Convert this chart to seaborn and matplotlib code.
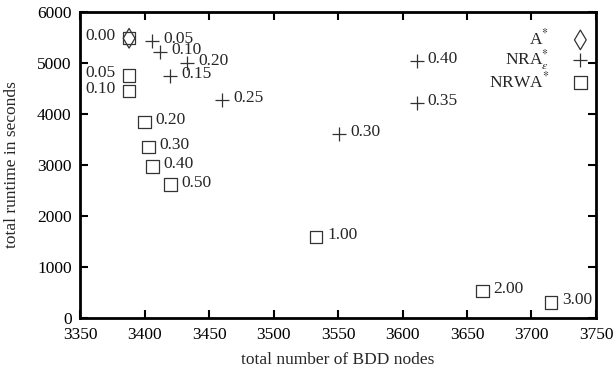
import pandas as pd
import matplotlib
matplotlib.use("Agg")
import matplotlib.pyplot as plt
import seaborn as sns

# values
astar_x = [3388]
astar_y = [5490]

nra_eps = ["0.05", "0.10", "0.15", "0.20", "0.25", "0.30", "0.35", "0.40"]
nra_x = [3406, 3412, 3420, 3433, 3460, 3551, 3611, 3611]
nra_y = [5430, 5215, 4741, 5002, 4283, 3601, 4216, 5041]

nrwa_w = ["0.00", "0.05", "0.10", "0.20", "0.30", "0.40", "0.50", "1.00", "2.00", "3.00"]
nrwa_x = [3388, 3388, 3388, 3400, 3403, 3406, 3420, 3533, 3662, 3715]
nrwa_y = [5490, 4760, 4452, 3843, 3352, 2972, 2613, 1578, 517, 295]
left_labels = ["0.00", "0.05", "0.10"]

sns.set_theme(style="ticks")
plt.rcParams["font.family"] = ["Liberation Serif", "DejaVu Serif"]
plt.rcParams["mathtext.fontset"] = "stix"
fs = 12.5

nra_df = pd.DataFrame({"x": nra_x, "y": nra_y, "label": nra_eps})
nrwa_df = pd.DataFrame({"x": nrwa_x, "y": nrwa_y, "label": nrwa_w})
astar_df = pd.DataFrame({"x": astar_x, "y": astar_y})

fig = plt.figure(figsize=(6.16, 3.74), dpi=100)
ax = fig.add_axes([0.13, 0.151, 0.8375, 0.816])

sns.scatterplot(data=astar_df, x="x", y="y", marker="d", s=100, facecolors="none",
                edgecolor="#333333", linewidth=0.9, label=r"A$^{*}$", ax=ax)
sns.scatterplot(data=nra_df, x="x", y="y", marker="+", s=90, color="#333333",
                linewidth=0.9, label=r"NRA$^{*}_{\epsilon}$", ax=ax)
sns.scatterplot(data=nrwa_df, x="x", y="y", marker="s", s=80, facecolors="none",
                edgecolor="#333333", linewidth=0.9, label=r"NRWA$^{*}$", ax=ax)

for _, r in nra_df.iterrows():
    ax.annotate(r["label"], (r["x"], r["y"]), xytext=(8, 1.5), textcoords="offset points",
                va="center", ha="left", fontsize=fs)
for _, r in nrwa_df.iterrows():
    if r["label"] in left_labels:
        ax.annotate(r["label"], (r["x"], r["y"]), xytext=(-10, 1.5), textcoords="offset points",
                    va="center", ha="right", fontsize=fs)
    else:
        ax.annotate(r["label"], (r["x"], r["y"]), xytext=(8, 1.5), textcoords="offset points",
                    va="center", ha="left", fontsize=fs)

ax.set_xlim(3350, 3750)
ax.set_ylim(0, 6000)
ax.set_xticks(range(3350, 3751, 50))
ax.set_yticks(range(0, 6001, 1000))
ax.set_xlabel("total number of BDD nodes", fontsize=fs, labelpad=6)
ax.set_ylabel("total runtime in seconds", fontsize=fs, labelpad=12)
ax.tick_params(direction="in", top=True, right=True, length=6, width=1.5,
               labelsize=fs, colors="black")
ax.tick_params(axis="x", pad=7)
ax.tick_params(axis="y", pad=6)
for sp in ax.spines.values():
    sp.set_visible(True)
    sp.set_linewidth(2)
    sp.set_color("black")

ax.legend(loc="upper right", markerfirst=False, frameon=False, fontsize=fs,
          handlelength=1.0, handletextpad=1.3, labelspacing=-0.06,
          borderpad=0.4, borderaxespad=0.0, bbox_to_anchor=(1.0, 0.97))

fig.savefig("out.png", dpi=100)
